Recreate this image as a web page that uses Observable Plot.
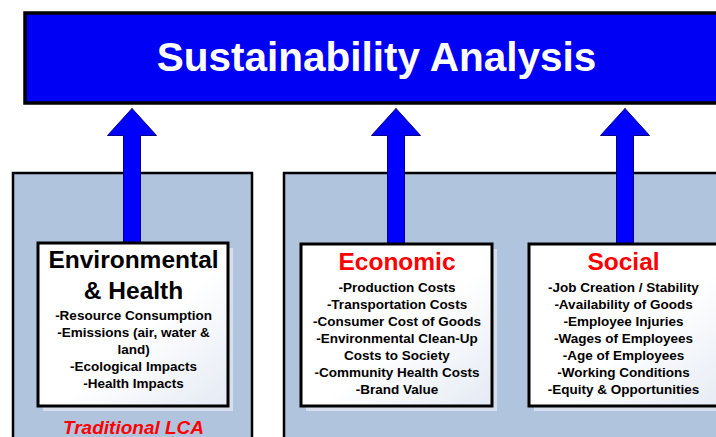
<!DOCTYPE html>
<html>
<head>
<meta charset="utf-8">
<script src="https://cdn.jsdelivr.net/npm/d3@7"></script>
<script src="https://cdn.jsdelivr.net/npm/@observablehq/plot@0.6"></script>
<style>
  html, body { margin: 0; padding: 0; background: #fff; }
  svg { display: block; overflow: hidden; }
</style>
</head>
<body>
<div id="chart"></div>
<script>
// ---- Data (text content of the diagram) ----
const title = "Sustainability Analysis";
const categories = ["Environmental\n& Health", "Economic", "Social"];
const categoryColors = ["#000000", "#FF0000", "#FF0000"];
const envItems = [
  "-Resource Consumption",
  "-Emissions (air, water &\nland)",
  "-Ecological Impacts",
  "-Health Impacts"
];
const econItems = [
  "-Production Costs",
  "-Transportation Costs",
  "-Consumer Cost of Goods",
  "-Environmental Clean-Up\nCosts to Society",
  "-Community Health Costs",
  "-Brand Value"
];
const socialItems = [
  "-Job Creation / Stability",
  "-Availability of Goods",
  "-Employee Injuries",
  "-Wages of Employees",
  "-Age of Employees",
  "-Working Conditions",
  "-Equity & Opportunities"
];
const panelLabel = "Traditional LCA";

// ---- Layout (diagram geometry in pixel-like units) ----
const W = 716, H = 437;
const font = "'Liberation Sans', Arial, Helvetica, sans-serif";
const titleBox = {x1: 25, x2: 730, y1: 13, y2: 103};
const panels = [
  {x1: 13, x2: 252, y1: 173, y2: 450},
  {x1: 284, x2: 730, y1: 173, y2: 450}
];
const boxes = [
  {x1: 38, x2: 228, y1: 243, y2: 406, cx: 133},
  {x1: 301, x2: 492, y1: 244, y2: 406, cx: 396.5},
  {x1: 529, x2: 730, y1: 244, y2: 406, cx: 623}
];
const arrowCx = [131.5, 395.5, 624.5];
const arrowTip = 108, headBase = 135, headHalf = 24.5, shaftHalf = 8.5;

const itemSets = [envItems, econItems, socialItems];

// Arrow polygons
const arrowPts = arrowCx.flatMap((cx, k) => {
  const yb = boxes[k].y1;
  return [
    [cx, arrowTip], [cx + headHalf, headBase], [cx + shaftHalf, headBase],
    [cx + shaftHalf, yb], [cx - shaftHalf, yb], [cx - shaftHalf, headBase],
    [cx - headHalf, headBase], [cx, arrowTip]
  ].map(([x, y]) => ({id: k, x, y}));
});

// Category heading lines
const headLines = categories.flatMap((c, k) =>
  c.split("\n").map((t, i) => ({t, x: boxes[k].cx, y: (k === 0 ? 260 : 262) + i * 31, color: categoryColors[k]}))
);

// Item lines
const itemStart = [315, 287, 287];
const itemStep = [17, 17.1, 17.1];
const itemLines = itemSets.flatMap((items, k) =>
  items.flatMap(s => s.split("\n")).map((t, i) => ({t, x: boxes[k].cx, y: itemStart[k] + i * itemStep[k]}))
);

const defs = () => {
  const g = d3.create("svg:defs");
  const lg = g.append("linearGradient").attr("id", "boxgrad")
    .attr("x1", "0").attr("y1", "0").attr("x2", "1").attr("y2", "1");
  lg.append("stop").attr("offset", "0%").attr("stop-color", "#FFFFFF");
  lg.append("stop").attr("offset", "55%").attr("stop-color", "#FFFFFF");
  lg.append("stop").attr("offset", "100%").attr("stop-color", "#E4EAF4");
  return g.node();
};

const chart = Plot.plot({
  width: W,
  height: H,
  margin: 0,
  x: {domain: [0, W], range: [0, W], axis: null},
  y: {domain: [0, H], range: [0, H], axis: null},
  style: {fontFamily: font, background: "#fff"},
  marks: [
    defs,
    // Title box
    Plot.rect([titleBox], {x1: "x1", x2: "x2", y1: "y1", y2: "y2", fill: "#0000F5", stroke: "#000", strokeWidth: 3.5}),
    Plot.text([title], {x: 376, y: 58, text: d => d, fill: "#fff", fontSize: 40.5, fontWeight: "bold"}),
    // Panels
    Plot.rect(panels, {x1: "x1", x2: "x2", y1: "y1", y2: "y2", fill: "#B0C4DE", stroke: "#000", strokeWidth: 2.5}),
    // Arrows
    Plot.line(arrowPts, {x: "x", y: "y", z: "id", fill: "#0000FF", stroke: "#00008a", strokeWidth: 1, curve: "linear"}),
    // Box shadows
    Plot.rect(boxes, {x1: d => d.x1 + 5, x2: d => d.x2 + 5, y1: d => d.y1 + 5, y2: d => d.y2 + 5, fill: "#D7DFEC"}),
    // Boxes
    Plot.rect(boxes, {x1: "x1", x2: "x2", y1: "y1", y2: "y2", fill: "url(#boxgrad)", stroke: "#000", strokeWidth: 3}),
    // Headings
    Plot.text(headLines, {x: "x", y: "y", text: "t", fill: "color", fontSize: 24.5, fontWeight: "bold"}),
    // Items
    Plot.text(itemLines, {x: "x", y: "y", text: "t", fill: "#000", fontSize: 13.5, fontWeight: "bold"}),
    // Panel label
    Plot.text([panelLabel], {x: 133, y: 427, text: d => d, fill: "#FF0000", fontSize: 19, fontWeight: "bold", fontStyle: "italic"})
  ]
});
document.getElementById("chart").appendChild(chart);
</script>
</body>
</html>
